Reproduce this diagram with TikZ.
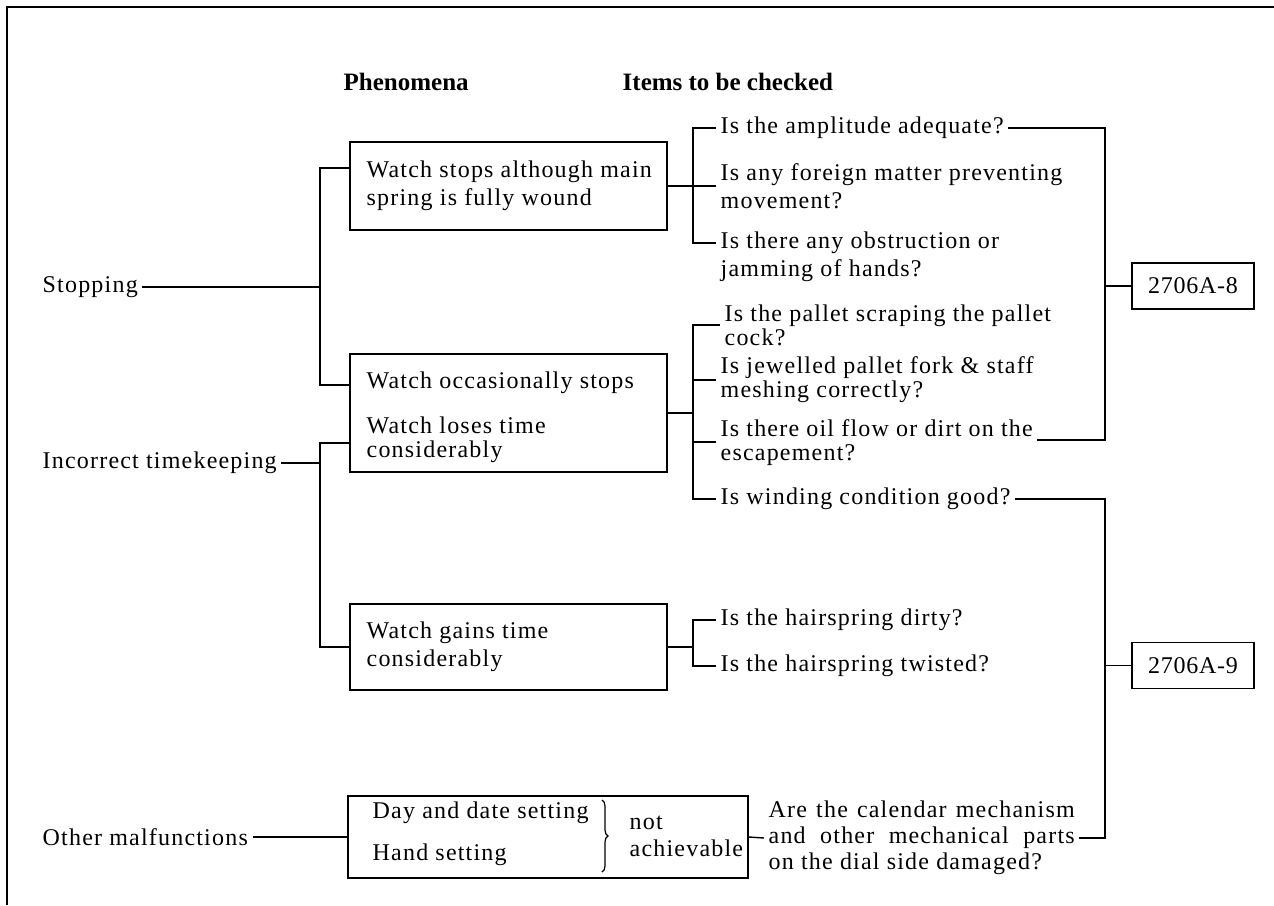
\documentclass[tikz,border=0pt]{standalone}
\usepackage{fontspec}
\setmainfont{Liberation Serif}
\usetikzlibrary{decorations.pathreplacing}
\begin{document}
\begin{tikzpicture}[x=0.5pt,y=-0.5pt,line width=0.7pt,
  txt/.style={anchor=west,inner xsep=2pt,inner ysep=0pt,align=left,
    font=\fontsize{12}{14}\selectfont\addfontfeature{LetterSpace=5}},
  tight/.style={txt,font=\fontsize{12}{12}\selectfont\addfontfeature{LetterSpace=5}},
  hdr/.style={anchor=west,inner sep=0pt,font=\fontsize{12.5}{14}\selectfont\bfseries},
  boxr/.style={draw,inner sep=0pt},
  refbox/.style={draw,inner sep=0pt,minimum width=61pt,minimum height=23pt,
    font=\fontsize{12}{14}\selectfont\addfontfeature{LetterSpace=3}}]
\useasboundingbox (0,0) rectangle (1274,905);
% frame
\draw (7,905) -- (7,7) -- (1274,7);
% headers
\node[hdr] (hph) at (343,82) {Phenomena};
\node[hdr] (hit) at (622,82) {Items to be checked};
% left labels
\node[txt] (stop) at (38,287) {Stopping};
\node[txt] (inc) at (38,463) {Incorrect timekeeping};
\node[txt] (oth) at (38,837) {Other malfunctions};
% boxes
\node[boxr,minimum width=158.5pt,minimum height=44pt] (b1) at (508.5,186) {};
\node[boxr,minimum width=158.5pt,minimum height=59pt] (b2) at (508.5,413) {};
\node[boxr,minimum width=158.5pt,minimum height=43pt] (b3) at (508.5,647) {};
\node[boxr,minimum width=200pt,minimum height=41pt] (b4) at (548,837) {};
\node[refbox] (r8) at (1193,286) {2706A-8};
\node[refbox] (r9) at (1193,665.5) {2706A-9};
% box texts
\node[txt] (t1) at (362,186) {Watch stops although main\\spring is fully wound};
\node[txt] (t2) at (362,383) {Watch occasionally stops};
\node[tight] (t3) at (362,440) {Watch loses time\\considerably};
\node[txt] (t4) at (362,647) {Watch gains time\\considerably};
\node[txt] (t5) at (368,813) {Day and date setting};
\node[txt] (t6) at (368,855) {Hand setting};
\node[txt] (t7) at (625,823) {not};
\node[txt] (t8) at (625,848) {achievable};
\coordinate (brT) at (602,800);
\coordinate (brB) at (602,872);
\draw[line width=0.6pt,decorate,decoration={brace,amplitude=3pt}] (brT) -- (brB);
% items
\node[txt] (q1) at (716,128) {Is the amplitude adequate?};
\node[txt] (q2) at (716,186) {Is any foreign matter preventing\\movement?};
\node[txt] (q3) at (716,257) {Is there any obstruction or\\jamming of hands?};
\node[tight] (q4) at (720,325) {Is the pallet scraping the pallet\\cock?};
\node[tight] (q5) at (716,380) {Is jewelled pallet fork \& staff\\meshing correctly?};
\node[tight] (q6) at (716,443) {Is there oil flow or dirt on the\\escapement?};
\node[txt] (q7) at (716,499) {Is winding condition good?};
\node[txt] (q8) at (716,620) {Is the hairspring dirty?};
\node[txt] (q9) at (716,666) {Is the hairspring twisted?};
\node[anchor=west,inner xsep=2pt,inner ysep=0pt,align=left,
  font=\fontsize{12}{13}\selectfont\addfontfeature{LetterSpace=5}] (q10) at (764,838)
  {\makebox[153pt][s]{Are the calendar mechanism}\\
   \makebox[153pt][s]{and other mechanical parts}\\
   on the dial side damaged?};
% spine coordinates
\coordinate (L1) at (320,287);
\coordinate (L2) at (320,463);
\coordinate (A1) at (693,128);
\coordinate (A3) at (693,243);
\coordinate (B1) at (693,325);
\coordinate (B4) at (693,499);
\coordinate (C1) at (693,620);
\coordinate (C2) at (693,666);
\coordinate (R1) at (1105,128);
\coordinate (R2) at (1105,440);
\coordinate (R3) at (1105,499);
\coordinate (R4) at (1105,838);
\coordinate (b1in) at (350,168);
\coordinate (b2in1) at (350,385);
\coordinate (b2in2) at (350,443);
% left connectors
\draw (stop.east) -- (L1);
\draw (b1in) -- (320,168) -- (320,385) -- (b2in1);
\draw (inc.east) -- (L2);
\draw (b2in2) -- (320,443) -- (320,647) -- (b3.west);
\draw (oth.east) -- (b4.west);
% bracket A
\draw (q1.west) -- (A1) -- (A3) -- ([yshift=7pt]q3.west);
\draw (b1.east) -- (q2.west);
% bracket B
\draw (q4.west) -- (B1) -- (B4) -- (q7.west);
\draw (b2.east) -- (b2.east -| B1);
\draw (q5.west) -- (q5.west -| B1);
\draw ([yshift=0.5pt]q6.west) -- ([yshift=0.5pt]q6.west -| B1);
% bracket C
\draw (q8.west) -- (C1) -- (C2) -- (q9.west);
\draw (b3.east) -- (b3.east -| C1);
% right spine 1
\draw (q1.east) -- (R1) -- (R2) -- ([yshift=1.5pt]q6.east);
\draw (r8.west) -- (r8.west -| R1);
% right spine 2
\draw (q7.east) -- (R3) -- (R4) -- (q10.east);
\draw (r9.west) -- (r9.west -| R3);
\draw (b4.east) -- (q10.west);
\end{tikzpicture}
\end{document}
